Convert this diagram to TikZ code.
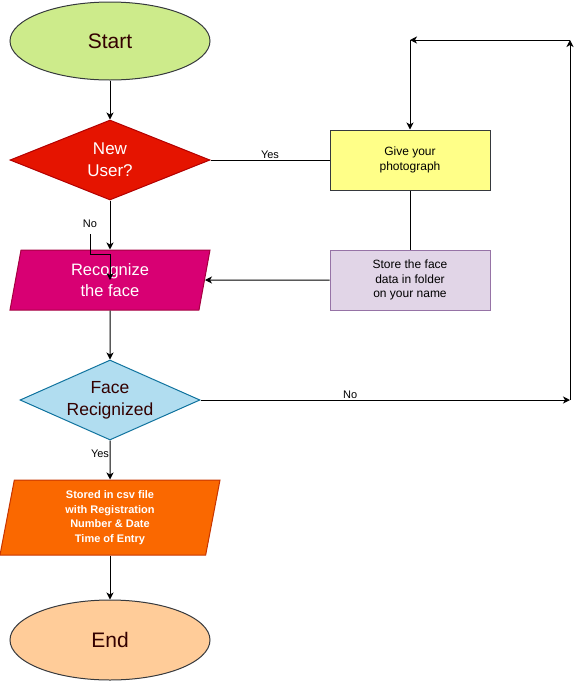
\documentclass[tikz,border=0pt]{standalone}
\usepackage{fontspec}
\setmainfont{Liberation Sans}
\usetikzlibrary{shapes.geometric,arrows.meta}

\definecolor{edgegrey}{HTML}{36393D}
\definecolor{darktext}{HTML}{330000}
\definecolor{startfill}{HTML}{CDEB8B}
\definecolor{endfill}{HTML}{FFCC99}
\definecolor{userfill}{HTML}{E51400}
\definecolor{userdraw}{HTML}{B20000}
\definecolor{recogfill}{HTML}{D80073}
\definecolor{recogdraw}{HTML}{A50040}
\definecolor{photofill}{HTML}{FFFF88}
\definecolor{storefill}{HTML}{E1D5E7}
\definecolor{storedraw}{HTML}{9673A6}
\definecolor{facefill}{HTML}{B1DDF0}
\definecolor{facedraw}{HTML}{10739E}
\definecolor{csvfill}{HTML}{FA6800}
\definecolor{csvdraw}{HTML}{C73500}

\tikzset{
  terminal/.style={ellipse, draw=edgegrey, line width=1pt, minimum width=200pt,
    minimum height=78pt, inner sep=0pt, text=darktext,
    font=\fontsize{21}{25}\selectfont},
  decision/.style={diamond, shape aspect=2.5, line width=1pt, minimum width=200pt,
    minimum height=80pt, inner sep=0pt, align=center},
  inout/.style={trapezium, trapezium stretches body, line width=1pt, inner sep=0pt,
    align=center},
  process/.style={rectangle, line width=1pt, minimum width=160pt, minimum height=60pt,
    inner sep=0pt, align=center, font=\fontsize{12}{14.5}\selectfont},
  arr/.style={-{Stealth[length=7pt,width=7pt,inset=2pt]}},
  lbl/.style={font=\fontsize{11}{13}\selectfont, inner sep=1pt},
}

\begin{document}
\begin{tikzpicture}[x=1pt,y=-1pt,line width=1pt]
  \useasboundingbox (0,0) rectangle (579,689);

  % left column
  \node[terminal, fill=startfill] (start) at (110,41) {Start};
  \node[decision, fill=userfill, draw=userdraw, text=white,
    font=\fontsize{17}{22}\selectfont] (newuser) at (110,160) {New\\User?};
  \node[inout, fill=recogfill, draw=recogdraw, text=white,
    trapezium left angle=71.57, trapezium right angle=108.43,
    minimum width=200pt, minimum height=60pt,
    font=\fontsize{16.5}{21}\selectfont] (recog) at (110,280) {Recognize\\the face};
  \node[decision, shape aspect=2.25, minimum width=180pt, fill=facefill,
    draw=facedraw, text=darktext,
    font=\fontsize{17.5}{22}\selectfont] (face) at (110,400) {Face\\Recignized};
  \node[inout, fill=csvfill, draw=csvdraw, text=white,
    trapezium left angle=75.07, trapezium right angle=104.93,
    minimum width=220pt, minimum height=75pt,
    font=\bfseries\fontsize{11}{14.5}\selectfont] (csv) at (110,517.5)
    {Stored in csv file\\with Registration\\Number \& Date\\Time of Entry};
  \node[terminal, fill=endfill, minimum height=80pt] (finish) at (110,640) {End};

  % right column
  \node[process, fill=photofill, draw=edgegrey] (photo) at (410,160) {Give your\\photograph};
  \node[process, fill=storefill, draw=storedraw] (store) at (410,280)
    {Store the face\\data in folder\\on your name};

  \coordinate (c1) at (570,400);
  \coordinate (c2) at (570,40);
  \coordinate (c3) at (410,40);

  \node[lbl, inner sep=6pt] (nolbl) at (90,224) {No};

  \draw[arr] (start) -- (newuser);
  \draw[arr] (newuser) -- (recog);
  \draw[arr] (nolbl.south) -- ++(0,20) -| (recog.center);
  \draw (newuser.east) -- node[lbl, above, pos=.5] {Yes} (photo.west);
  \draw (photo) -- (store);
  \draw[arr] (store.west) -- (recog.east);
  \draw[arr] (recog) -- (face);
  \draw[arr] (face.east) -- node[lbl, above, pos=.405] {No} (c1);
  \draw[arr] (c1) -- (c2);
  \draw[arr] (c2) -- (c3);
  \draw[arr] (c3) -- (photo);
  \draw[arr] (face) -- node[lbl, pos=.33, xshift=-10pt] {Yes} (csv);
  \draw[arr] (csv) -- (finish);
\end{tikzpicture}
\end{document}
